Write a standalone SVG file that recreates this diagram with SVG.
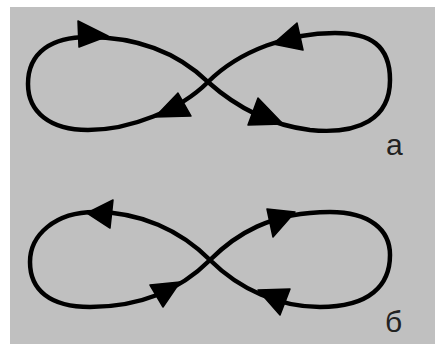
<svg xmlns="http://www.w3.org/2000/svg" width="435" height="344" viewBox="0 0 435 344">
<style>
.curve{fill:none;stroke:#000;stroke-width:4.5;stroke-linejoin:round}
.head{fill:#000;stroke:#000;stroke-width:1.5;stroke-linejoin:round}
.lbl{font-family:"Liberation Sans",Arial,sans-serif;font-size:30px;fill:#222}
</style>
<rect x="0" y="0" width="435" height="344" fill="#ffffff"/>
<rect x="10" y="7" width="425" height="337" fill="#c0c0c0"/>
<g id="figure-a">
<path class="curve" d="M208,82 C235,106 270,125 310,130 C360,135 390,118 390,80 C390,45 370,33 335,33 C290,33 240,50 208,82 C180,110 130,130 88,130 C50,130 28,112 28,84 C28,52 52,37 88,37 C140,37 180,55 208,82 Z"/>
<polygon class="head" points="78,21 108,36 79,47"/>
<polygon class="head" points="297,23 273,44 303,50"/>
<polygon class="head" points="178,93 155,117 191,116"/>
<polygon class="head" points="258,98 248,125 283,124"/>
<text class="lbl" x="386" y="155">a</text>
</g>
<g id="figure-b">
<path class="curve" d="M210,260 C235,235 270,212 330,212 C370,212 390,230 390,255 C390,285 370,307 320,307 C280,307 240,290 210,260 C180,230 140,212 95,212 C55,212 30,235 30,262 C30,290 50,307 90,307 C140,307 180,290 210,260 Z"/>
<polygon class="head" points="113,200 87,213 110,228"/>
<polygon class="head" points="267,209 295,212 273,237"/>
<polygon class="head" points="150,285 180,282 163,307"/>
<polygon class="head" points="258,290 290,289 280,315"/>
<text class="lbl" x="385" y="332">б</text>
</g>
</svg>
